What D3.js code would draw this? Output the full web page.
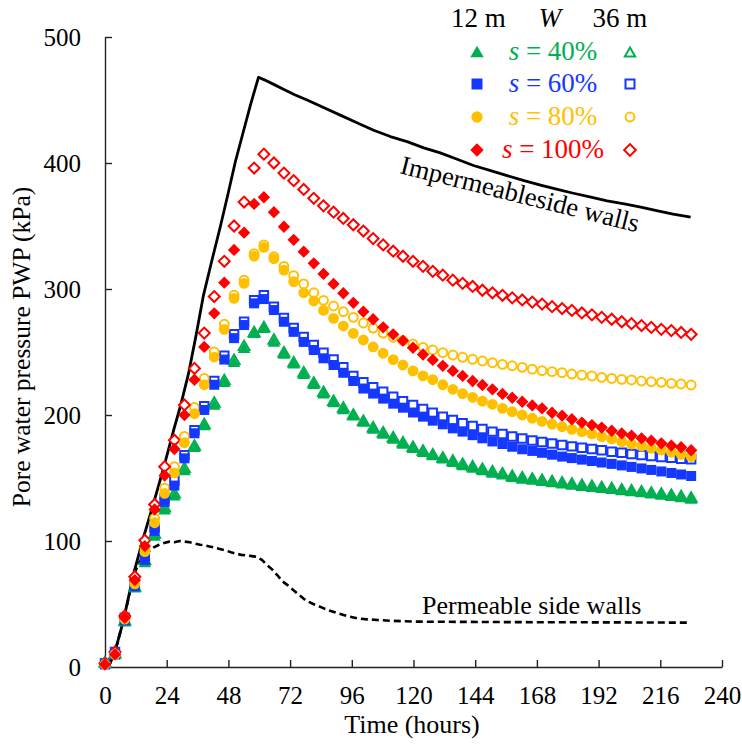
<!DOCTYPE html>
<html>
<head>
<meta charset="utf-8">
<script src="https://cdn.jsdelivr.net/npm/d3@7/dist/d3.min.js"></script>
<style>
  html, body { margin: 0; padding: 0; background: #fff; }
  svg { display: block; font-family: "Liberation Serif", "Times New Roman", serif; }
</style>
</head>
<body>
<svg id="chart" width="742" height="747"></svg>
<script>
// Measurement times (hours)
const times = [
  0, 3.9, 7.7, 11.6, 15.5, 19.3, 23.2, 27.0, 30.9, 34.8,
  38.6, 42.5, 46.4, 50.2, 54.1, 58.0, 61.8, 65.7, 69.6, 73.4,
  77.3, 81.2, 85.0, 88.9, 92.7, 96.6, 100.5, 104.3, 108.2, 112.1,
  115.9, 119.8, 123.7, 127.5, 131.4, 135.3, 139.1, 143.0, 146.8, 150.7,
  154.6, 158.4, 162.3, 166.2, 170.0, 173.9, 177.8, 181.6, 185.5, 189.4,
  193.2, 197.1, 201.0, 204.8, 208.7, 212.5, 216.4, 220.3, 224.1, 228.0
];

// PWP (kPa), W = 12 m and W = 36 m, for each s
const s40w12 = [
  2, 9, 35, 62, 82, 103, 124, 135, 155, 173.5,
  190.7, 207, 225, 241, 252, 264, 268, 257, 247.6, 239.7,
  231.5, 223.5, 216, 209, 203.5, 198.5, 193.5, 188, 184, 180,
  176, 172.8, 169.6, 166.9, 164.3, 161.7, 159, 157, 155, 153,
  151.6, 149.7, 148.4, 147.5, 146.5, 145.5, 144.5, 143.5, 142.6, 141.7,
  140.9, 140.1, 139.2, 138.4, 137.5, 136.6, 135.7, 134.7, 133.7, 132.5
];
const s40w36 = [
  3, 10, 36, 63, 84, 105, 126, 137, 157, 175,
  192, 209, 227, 243, 254, 265, 269, 259, 249, 241,
  233, 225, 217.5, 210.5, 205, 199.5, 194.5, 189.5, 185.5, 181.5,
  177.5, 174, 171, 168, 165.5, 163, 160.5, 158.5, 156.5, 154.5,
  153, 151, 149.8, 148.8, 147.8, 146.8, 145.8, 144.8, 143.8, 142.9,
  142, 141.2, 140.3, 139.5, 138.6, 137.7, 136.8, 135.8, 134.8, 133.7
];
const s60w12 = [
  2, 10, 37, 64, 85, 108, 131, 144, 165.6, 185.5,
  204, 224, 244, 261, 271.4, 288.6, 292, 283.3, 274, 266,
  258, 251.6, 245, 239.7, 233.5, 227, 221, 217, 213, 209,
  205.8, 202, 198.7, 195.5, 192.6, 189.4, 186.8, 184, 181.5, 179,
  177, 174.8, 172.8, 171.5, 170, 168.5, 167, 165.8, 164.6, 163.5,
  162.3, 161.2, 160, 158.8, 157.6, 156.4, 155.2, 154, 152.8, 151.6
];
const s60w36 = [
  3, 12, 39, 67, 88, 111, 134, 148, 168, 188,
  207, 227, 247, 264, 274, 291, 295, 286, 277, 269,
  262, 255.5, 249.5, 244, 238, 231, 226, 222, 218.5, 214.5,
  211, 208, 204.8, 201.8, 198.7, 196, 193.4, 191.3, 188.9, 186.8,
  185, 183, 181.3, 179.8, 178.5, 177.3, 176.2, 175.1, 174, 173,
  172, 170.9, 170, 169, 168.3, 167.5, 166.7, 166, 165.3, 164.8
];
const s80w12 = [
  2, 10, 38, 66, 91.5, 114.5, 137.8, 154, 178, 201,
  224, 246, 268, 292.6, 304.5, 326, 333, 324, 315, 305.8,
  297, 290.5, 283, 276.7, 270.6, 264.8, 259.5, 254, 249, 244,
  239.7, 235, 231, 228, 224, 220.4, 217, 214, 211, 208.5,
  205.3, 202.6, 200, 197.4, 195, 192.8, 190.7, 188.6, 186.8, 185,
  182.8, 181, 178.8, 177, 175.4, 173.6, 172.2, 170.4, 168.8, 167
];
const s80w36 = [
  3, 11, 40, 69, 95, 118, 142, 159, 183, 206,
  229, 250, 272, 295, 307, 328, 335, 325.6, 318, 310.6,
  304, 297, 291, 286.5, 282, 277.5, 273, 269, 265, 261.7,
  259, 256.3, 253.7, 251.6, 249.5, 247.6, 245.8, 244.2, 242.9, 241.5,
  240.2, 239.1, 237.8, 236.4, 235.2, 234.4, 233.6, 232.5, 231.7, 231,
  229.9, 229, 228.3, 227.8, 227, 226.4, 225.9, 225.1, 224.6, 223.8
];
const s100w12 = [
  2, 10, 39, 69, 96, 125, 152, 173, 200, 228,
  254, 280.7, 305, 331, 344.7, 367.5, 372.8, 361, 349.4, 339,
  329.6, 320.4, 312, 304, 296.6, 289, 282, 276, 269.6, 264,
  259, 253.4, 248, 243.7, 239, 235, 231, 227, 223.8, 220.4,
  216.7, 213.7, 210.5, 207.6, 205.3, 201.8, 199.5, 196.6, 194, 192,
  190, 187.5, 185.4, 183.6, 181.5, 179.6, 177.5, 175.7, 174.4, 172
];
const s100w36 = [
  3, 12, 40.5, 71.7, 100.5, 129, 159, 180, 208, 237,
  265, 294, 322, 350, 369, 396, 407, 400, 392, 386,
  379, 372, 366, 361, 356, 351, 346, 340, 335, 330,
  326, 322, 318, 314, 311, 307, 304.5, 302, 299, 297,
  295, 293, 291.3, 289.6, 288, 286, 284.5, 283, 281, 279.5,
  277.5, 276, 274, 272.5, 271, 269.5, 268, 267, 265.5, 264
];

// Reference curves: impermeable and permeable side walls
const impermeableTime = [
  0, 2, 4, 7.2, 11.1, 15, 18.9, 22.8, 26.7, 29.6, 32.5, 35.4, 38.3, 41.5, 44.8,
  47.8, 50.7, 53.7, 56.7, 59.7, 62, 66, 70, 74, 78.6, 85, 91.5, 98, 104.5, 111,
  117.5, 124, 130.4, 137, 143.3, 150, 156.4, 163, 169.4, 176, 182.2, 189, 195.3,
  202, 208.4, 215, 221, 227.8
];
const impermeablePWP = [
  0, 3, 13, 37, 74, 103, 130, 158, 188, 209, 233, 263, 295, 322, 349,
  375, 401, 424, 447, 468, 466, 462, 458, 454, 450, 444, 438, 432, 426, 421,
  417, 412, 408, 403, 398, 394, 390, 386, 382.5, 379, 376, 373, 370,
  367.5, 365, 362, 359.5, 357
];
const permeableTime = [
  0, 2, 4, 7.2, 11.1, 13, 15, 17, 19, 21, 23, 25, 27, 29, 31, 33, 35, 37, 39,
  41, 43, 45, 47, 49, 51, 53, 55, 57, 59, 61, 63, 65, 67, 69, 71, 73, 75, 78,
  81, 84, 87, 90, 94, 98, 102, 106, 112, 121, 140, 160, 180, 200, 227
];
const permeablePWP = [
  0, 3, 13, 37, 72, 82, 88, 92, 95, 97, 98.5, 99.5, 99, 100, 99.5, 99, 98, 97, 96.5,
  95.5, 94.5, 93.5, 92.5, 91, 90, 89, 88.5, 88, 87.5, 85, 81, 77.5, 73, 68, 65, 61.5, 58, 53,
  50, 47.5, 45, 43, 40.5, 38.6, 37.8, 37.3, 36.6, 36, 35.8, 35.6, 35.5, 35.4, 35.2
];

const xTicks = [0, 24, 48, 72, 96, 120, 144, 168, 192, 216, 240];
const yTicks = [0, 100, 200, 300, 400, 500];
const saturations = ["40%", "60%", "80%", "100%"];

const colors = { g: "#00B050", b: "#1438FF", y: "#FFC000", r: "#FF0000" };

const svg = d3.select("#chart");
const x = d3.scaleLinear().domain([0, 240]).range([105, 722]);
const y = d3.scaleLinear().domain([0, 500]).range([667, 37]);

svg.append("rect").attr("width", 742).attr("height", 747).attr("fill", "#fff");

// Axes
const xAxis = d3.axisBottom(x).tickValues(xTicks).tickSizeInner(-7).tickSizeOuter(0).tickPadding(19);
const yAxis = d3.axisLeft(y).tickValues(yTicks).tickSizeInner(-7).tickSizeOuter(0).tickPadding(24);

const gx = svg.append("g").attr("transform", `translate(0,${y(0)})`).call(xAxis);
const gy = svg.append("g").attr("transform", `translate(${x(0)},0)`).call(yAxis);
[gx, gy].forEach(g => {
  g.select(".domain").attr("stroke", "#222").attr("stroke-width", 1.4);
  g.selectAll(".tick line").attr("stroke", "#222").attr("stroke-width", 1.4);
  g.selectAll(".tick text").attr("fill", "#000").attr("font-size", 25)
    .attr("font-family", "'Liberation Serif', 'Times New Roman', serif");
});
gy.selectAll(".tick text").attr("dy", "0.33em");

svg.append("text")
  .attr("x", 412).attr("y", 733)
  .attr("text-anchor", "middle").attr("font-size", 26)
  .text("Time (hours)");
svg.append("text")
  .attr("transform", "translate(30,347) rotate(-90)")
  .attr("text-anchor", "middle").attr("font-size", 25.5)
  .text("Pore water pressure PWP (kPa)");

// Reference curves
const line = d3.line().x(d => x(d[0])).y(d => y(d[1]));
svg.append("path")
  .datum(permeableTime.map((t, i) => [t, permeablePWP[i]]))
  .attr("d", line).attr("fill", "none").attr("stroke", "#000")
  .attr("stroke-width", 2.6).attr("stroke-dasharray", "7,4");
svg.append("path")
  .datum(impermeableTime.map((t, i) => [t, impermeablePWP[i]]))
  .attr("d", line).attr("fill", "none").attr("stroke", "#000")
  .attr("stroke-width", 2.8).attr("stroke-linejoin", "round");

// Marker definitions
const shapes = {
  tri: { type: d3.symbolTriangle, rot: 0 },
  sq: { type: d3.symbolSquare, rot: 0 },
  cir: { type: d3.symbolCircle, rot: 0 },
  dia: { type: d3.symbolSquare, rot: 45 }
};
const series = [
  { values: s40w36, shape: "tri", color: colors.g, open: true, size: 52 },
  { values: s60w36, shape: "sq", color: colors.b, open: true, size: 72 },
  { values: s80w36, shape: "cir", color: colors.y, open: true, size: 62 },
  { values: s100w36, shape: "dia", color: colors.r, open: true, size: 60 },
  { values: s40w12, shape: "tri", color: colors.g, open: false, size: 68 },
  { values: s60w12, shape: "sq", color: colors.b, open: false, size: 100 },
  { values: s80w12, shape: "cir", color: colors.y, open: false, size: 92 },
  { values: s100w12, shape: "dia", color: colors.r, open: false, size: 76 }
];

function drawMarker(g, shape, size, color, open, cx, cy) {
  const sp = shapes[shape];
  g.append("path")
    .attr("d", d3.symbol().type(sp.type).size(size)())
    .attr("transform", `translate(${cx},${cy}) rotate(${sp.rot})`)
    .attr("fill", open ? "#fff" : color)
    .attr("stroke", open ? color : "none")
    .attr("stroke-width", open ? 2 : 0);
}

series.forEach(s => {
  const g = svg.append("g");
  s.values.forEach((v, i) => drawMarker(g, s.shape, s.size, s.color, s.open, x(times[i]), y(v)));
});

// Annotations
svg.append("text")
  .attr("x", 422).attr("y", 614).attr("font-size", 26)
  .text("Permeable side walls");
svg.append("text")
  .attr("transform", "translate(399,173) rotate(14)")
  .attr("font-size", 26.5)
  .text("Impermeableside walls");

// Legend
const lg = svg.append("g");
lg.append("text").attr("x", 478.5).attr("y", 27).attr("text-anchor", "middle").attr("font-size", 27).text("12 m");
lg.append("text").attr("x", 550).attr("y", 27).attr("text-anchor", "middle").attr("font-size", 27)
  .attr("font-style", "italic").text("W");
lg.append("text").attr("x", 620).attr("y", 27).attr("text-anchor", "middle").attr("font-size", 27).text("36 m");

const legendRows = [
  { label: saturations[0], shape: "tri", color: colors.g, cy: 52, fs: 78, os: 46 },
  { label: saturations[1], shape: "sq", color: colors.b, cy: 84, fs: 121, os: 81 },
  { label: saturations[2], shape: "cir", color: colors.y, cy: 117, fs: 100, os: 62 },
  { label: saturations[3], shape: "dia", color: colors.r, cy: 150, fs: 90, os: 68 }
];
legendRows.forEach(r => {
  const cyAdj = r.shape === "tri" ? r.cy + 1.5 : r.cy;
  drawMarker(lg, r.shape, r.fs, r.color, false, 477, cyAdj);
  drawMarker(lg, r.shape, r.os, r.color, true, 630, cyAdj);
  const t = lg.append("text").attr("x", 553).attr("y", r.cy + 8)
    .attr("text-anchor", "middle").attr("font-size", 27).attr("fill", r.color);
  t.append("tspan").attr("font-style", "italic").text("s");
  t.append("tspan").text(" = " + r.label);
});
</script>
</body>
</html>
